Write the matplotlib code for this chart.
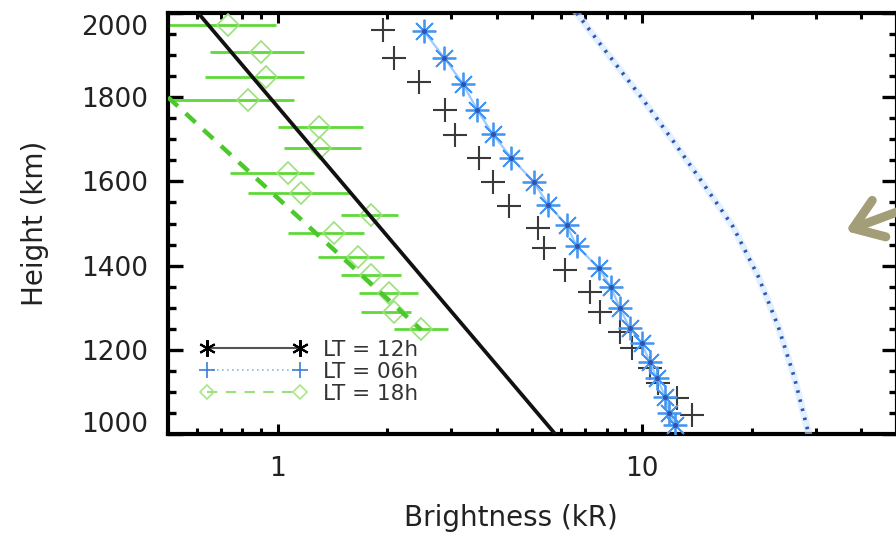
import matplotlib
matplotlib.use("Agg")
import matplotlib.pyplot as plt
import matplotlib.transforms as mtransforms
from matplotlib.lines import Line2D
from matplotlib.ticker import LogLocator, FixedLocator, NullFormatter, FixedFormatter

# ---------------- data ----------------
# black solid line
line_black_x = [0.605, 5.78]
line_black_h = [2000, 1000]

# black plus markers
plus_x = [1.95, 2.09, 2.45, 2.88, 3.07, 3.56, 3.91, 4.33, 5.17, 5.40,
          6.14, 7.19, 7.66, 8.70, 9.38, 10.5, 11.1, 12.5, 13.7]
plus_h = [1960, 1893, 1836, 1770, 1710, 1656, 1599, 1542, 1489, 1442,
          1390, 1337, 1290, 1242, 1204, 1157, 1121, 1086, 1045]

# blue asterisks
ast_x = [2.52, 2.87, 3.23, 3.53, 3.89, 4.38, 5.04, 5.54, 6.21, 6.62,
         7.61, 8.22, 8.70, 9.26, 10.0, 10.5, 11.0, 11.6, 11.9, 12.3]
ast_h = [1957, 1893, 1831, 1770, 1713, 1656, 1599, 1544, 1496, 1447,
         1394, 1349, 1299, 1252, 1216, 1171, 1133, 1088, 1050, 1021]

# blue dotted curve
dot_x = [6.62, 7.91, 10.0, 12.3, 14.7, 17.8, 20.9, 23.7, 26.2, 28.3, 28.7]
dot_h = [2000, 1912, 1798, 1691, 1596, 1492, 1373, 1254, 1135, 1021, 1000]

# green dashed line
dash_x = [0.5, 2.48]
dash_h = [1800, 1247]

# green diamonds with horizontal error bars
dia_x = [0.73, 0.90, 0.93, 0.83, 1.30, 1.31, 1.065, 1.16, 1.80, 1.43,
         1.66, 1.80, 2.02, 2.09, 2.48]
dia_h = [1971, 1907, 1848, 1793, 1729, 1679, 1620, 1572, 1520, 1477,
         1420, 1378, 1335, 1290, 1249]
dia_lo = [0.45, 0.65, 0.63, 0.45, 1.00, 1.04, 0.74, 0.83, 1.49, 1.07,
          1.29, 1.49, 1.67, 1.69, 2.08]
dia_hi = [0.99, 1.18, 1.18, 1.11, 1.71, 1.69, 1.26, 1.59, 2.14, 1.73,
          1.96, 2.18, 2.43, 2.33, 2.94]

legend_labels = ["LT = 12h", "LT = 06h", "LT = 18h"]
y_ticks = [1000, 1200, 1400, 1600, 1800, 2000]
x_ticks = [1, 10]
x_ticklabels = ["1", "10"]

# ---------------- figure ----------------
W, H = 896, 541
AX_L, AX_R, AX_T, AX_B = 168, 896.5, 13, 434
fig = plt.figure(figsize=(W / 100, H / 100), dpi=100)
ax = fig.add_axes([AX_L / W, 1 - AX_B / H, (AX_R - AX_L) / W, (AX_B - AX_T) / H])

ax.set_xscale("log")
ax.set_xlim(0.5, 50)
ax.set_ylim(1000, 2000)

green = "#5fd93a"
green_light = "#9be07c"
blue = "#4496f2"
blue_dark = "#2f55b0"

# green error bars + diamonds
xerr = [[x - lo for x, lo in zip(dia_x, dia_lo)], [hi - x for x, hi in zip(dia_x, dia_hi)]]
ax.errorbar(dia_x, dia_h, xerr=xerr, fmt="none", ecolor=green, elinewidth=2.0,
            capsize=0, zorder=2)
ax.plot(dia_x, dia_h, ls="none", marker="D", ms=11, mfc="none", mec=green_light,
        mew=1.2, zorder=3)

# green dashed
ax.plot(dash_x, dash_h, color="#4cc92a", lw=3.2, ls=(0, (3, 2.4)), zorder=3)

# black solid
ax.plot(line_black_x, line_black_h, color="#111111", lw=2.7, zorder=4)

# black pluses
ax.plot(plus_x, plus_h, ls="none", marker="+", ms=17, mew=1.5, color="#3a3a3a", zorder=4)

# blue asterisks with connecting line
ax.plot(ast_x, ast_h, color="#9ccbff", lw=1.6, zorder=4)
ax.plot(ast_x, ast_h, ls="none", marker=(8, 2, 0), ms=17, mew=1.3, color=blue, zorder=5)
ax.plot(ast_x, ast_h, ls="none", marker="o", ms=2.6, color=blue_dark, zorder=6)

# blue dotted curve
ax.plot(dot_x, dot_h, color="#cfe7ff", lw=5, alpha=0.6, zorder=3)
ax.plot(dot_x, dot_h, color=blue_dark, lw=2.6, ls=(0, (0.7, 1.9)), zorder=4)

# ---------------- axes styling ----------------
for s in ax.spines.values():
    s.set_linewidth(3)
    s.set_color("black")

ax.yaxis.set_major_locator(FixedLocator(y_ticks))
ax.yaxis.set_minor_locator(FixedLocator(list(range(1000, 2001, 50))))
ax.xaxis.set_major_locator(FixedLocator(x_ticks))
ax.xaxis.set_major_formatter(FixedFormatter(x_ticklabels))
ax.xaxis.set_minor_locator(LogLocator(base=10, subs=(2, 3, 4, 5, 6, 7, 8, 9)))
ax.xaxis.set_minor_formatter(NullFormatter())

ax.tick_params(axis="y", which="major", direction="in", length=11, width=2.4,
               left=True, right=True, labelsize=19, pad=14, colors="black")
ax.tick_params(axis="y", which="minor", direction="in", length=6, width=2.4,
               left=True, right=True)
ax.tick_params(axis="x", which="major", direction="in", length=7, width=2.2,
               bottom=True, top=True, labelsize=19, pad=16)
ax.tick_params(axis="x", which="minor", direction="in", length=4, width=2.2,
               bottom=True, top=True)
for lab in ax.get_yticklabels() + ax.get_xticklabels():
    lab.set_color("#222222")

# shift end labels inward like the reference
fig.canvas.draw()
for t in ax.yaxis.get_major_ticks():
    txt = t.label1.get_text()
    if txt == "2000":
        t.label1.set_transform(t.label1.get_transform() +
                               mtransforms.ScaledTranslation(0, -12 / 100, fig.dpi_scale_trans))
    elif txt == "1000":
        t.label1.set_transform(t.label1.get_transform() +
                               mtransforms.ScaledTranslation(0, 12 / 100, fig.dpi_scale_trans))

AXW = AX_R - AX_L
AXH = AX_B - AX_T
ax.set_xlabel("Brightness (kR)", fontsize=20, color="#222222")
ax.set_ylabel("Height (km)", fontsize=20, color="#222222")
ax.xaxis.set_label_coords((511 - AX_L) / AXW, -(518 - AX_B) / AXH, transform=ax.transAxes)
ax.yaxis.set_label_coords(-(AX_L - 35) / AXW, 0.5)
ax.xaxis.label.set_va("center")
ax.yaxis.label.set_va("center")

# legend
handles = [
    Line2D([], [], color="#555555", lw=1.5, ls="-", marker=(6, 2, 0), ms=12, mew=1.5, mec="black"),
    Line2D([], [], color="#8fb8e8", lw=1.2, ls=(0, (1, 2)), marker="+", ms=12, mew=1.2, mec="#3b7fd4"),
    Line2D([], [], color="#9be07c", lw=1.5, ls=(0, (5, 4)), marker="D", ms=7, mew=1.2,
           mfc="none", mec="#a8e68a"),
]
leg = ax.legend(handles, legend_labels, loc="lower left",
                bbox_to_anchor=((201 - AX_L) / AXW, (AX_B - 404) / AXH),
                frameon=False, numpoints=2, handlelength=4.9, handletextpad=0.75,
                labelspacing=0.1, borderpad=0, borderaxespad=0, fontsize=15.5)
for t in leg.get_texts():
    t.set_color("#333333")

# arrow annotation (figure coordinates)
fig.patches.append(matplotlib.patches.FancyArrowPatch(
    (905 / W, 1 - 209 / H), (843 / W, 1 - 232 / H), transform=fig.transFigure,
    arrowstyle="->,head_length=1.0,head_width=0.7", lw=6.5, color="#a39e78",
    capstyle="round", joinstyle="round", mutation_scale=20))

fig.savefig("out.png", dpi=100)
